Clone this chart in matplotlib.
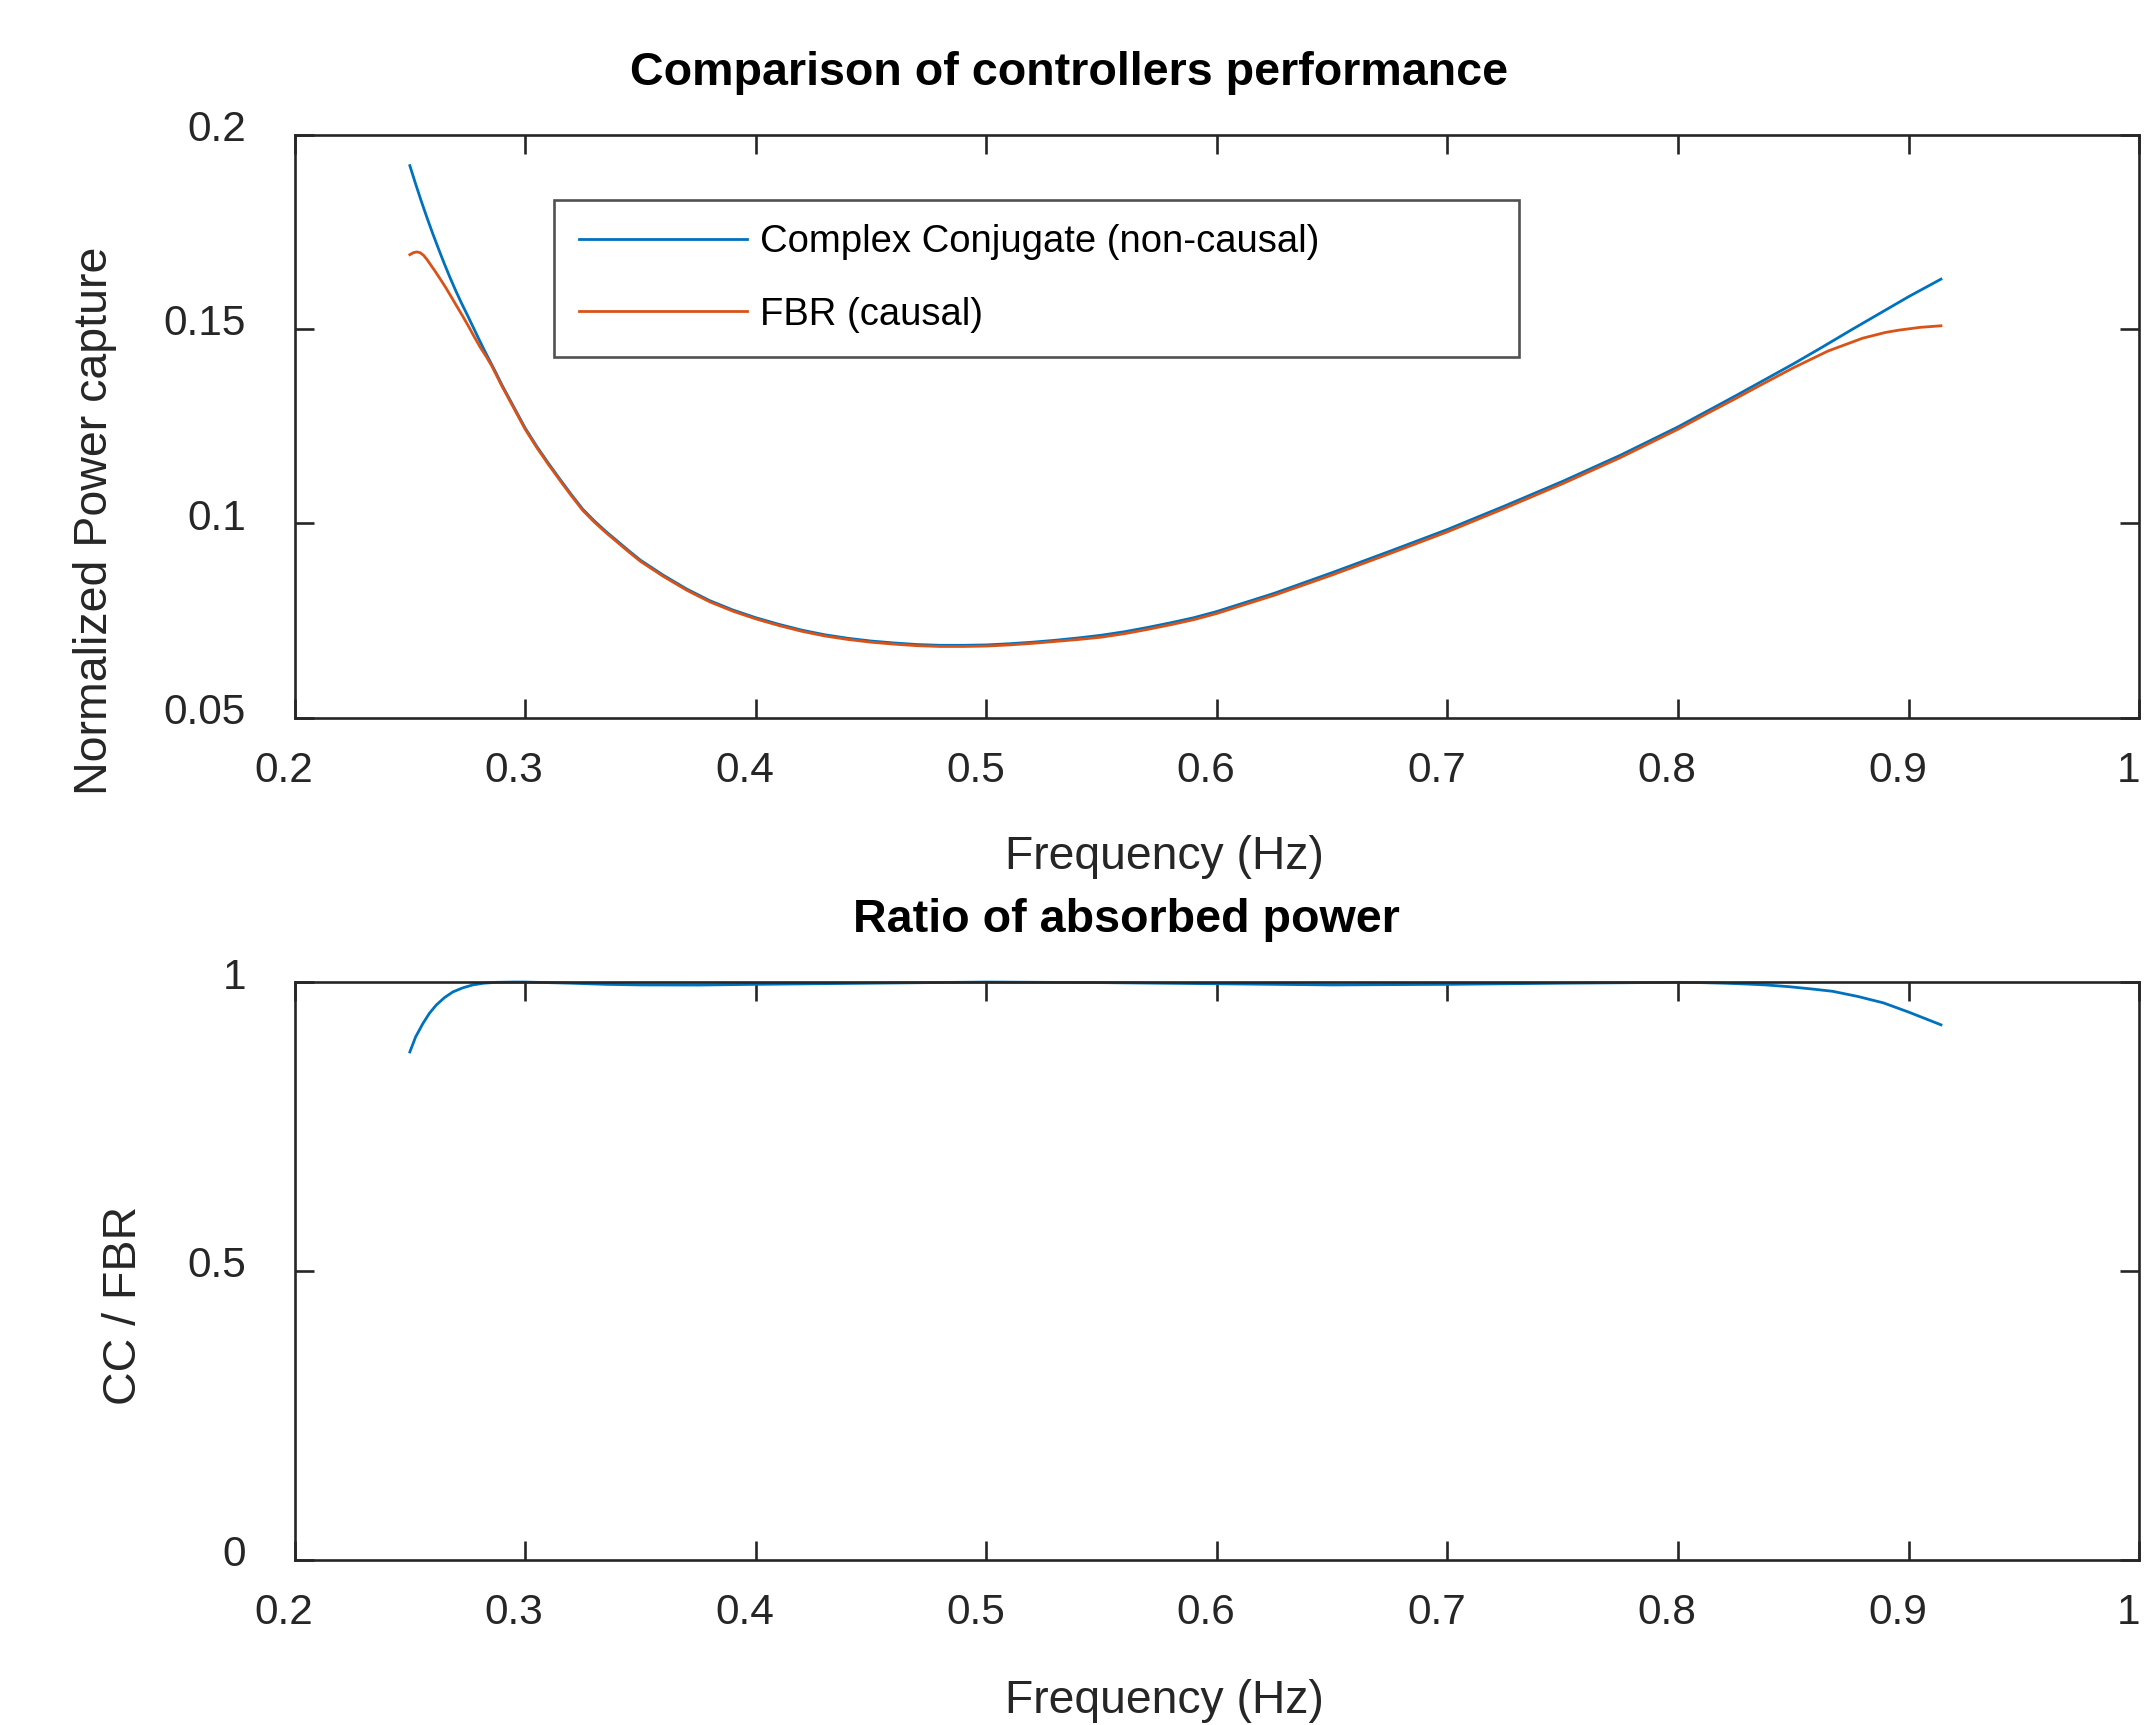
import matplotlib
matplotlib.use("Agg")
import matplotlib.pyplot as plt
import matplotlib.transforms as mtransforms

# ---- data ----
freq_cc = [0.2500, 0.2525, 0.2550, 0.2575, 0.2600, 0.2625, 0.2650, 0.2675, 0.2700, 0.2725,
           0.2750, 0.2775, 0.2800, 0.2825, 0.2850, 0.2875, 0.2900, 0.2950, 0.3000, 0.3050,
           0.3100, 0.3150, 0.3200, 0.3250, 0.3300, 0.3350, 0.3400, 0.3450, 0.3500, 0.3600,
           0.3700, 0.3800, 0.3900, 0.4000, 0.4100, 0.4200, 0.4300, 0.4400, 0.4500, 0.4600,
           0.4700, 0.4800, 0.4900, 0.5000, 0.5100, 0.5200, 0.5300, 0.5400, 0.5500, 0.5600,
           0.5700, 0.5800, 0.5900, 0.6000, 0.6250, 0.6500, 0.6750, 0.7000, 0.7250, 0.7500,
           0.7750, 0.8000, 0.8125, 0.8250, 0.8375, 0.8500, 0.8625, 0.8750, 0.8875, 0.9000,
           0.9140]
power_cc = [0.1920, 0.1873, 0.1828, 0.1785, 0.1744, 0.1705, 0.1667, 0.1631, 0.1597, 0.1565,
            0.1535, 0.1504, 0.1473, 0.1443, 0.1414, 0.1385, 0.1355, 0.1300, 0.1245, 0.1198,
            0.1155, 0.1114, 0.1074, 0.1036, 0.1006, 0.0979, 0.0954, 0.0929, 0.0905, 0.0866,
            0.0831, 0.0801, 0.0777, 0.0757, 0.0740, 0.0725, 0.0713, 0.0704, 0.0697, 0.0692,
            0.0688, 0.0686, 0.0686, 0.0687, 0.0690, 0.0694, 0.0699, 0.0705, 0.0712, 0.0721,
            0.0732, 0.0744, 0.0757, 0.0773, 0.0820, 0.0873, 0.0928, 0.0984, 0.1045, 0.1108,
            0.1175, 0.1248, 0.1288, 0.1328, 0.1369, 0.1410, 0.1453, 0.1497, 0.1540, 0.1583,
            0.1628]

freq_fbr = [0.2500, 0.2515, 0.2530, 0.2545, 0.2560, 0.2575, 0.2590, 0.2610, 0.2630, 0.2655,
            0.2680, 0.2705, 0.2730, 0.2755, 0.2780, 0.2805, 0.2830, 0.2855, 0.2900, 0.2950,
            0.3000, 0.3050, 0.3100, 0.3150, 0.3200, 0.3250, 0.3300, 0.3350, 0.3400, 0.3450,
            0.3500, 0.3600, 0.3700, 0.3800, 0.3900, 0.4000, 0.4100, 0.4200, 0.4300, 0.4400,
            0.4500, 0.4600, 0.4700, 0.4800, 0.4900, 0.5000, 0.5100, 0.5200, 0.5300, 0.5400,
            0.5500, 0.5600, 0.5700, 0.5800, 0.5900, 0.6000, 0.6250, 0.6500, 0.6750, 0.7000,
            0.7250, 0.7500, 0.7750, 0.8000, 0.8125, 0.8250, 0.8350, 0.8500, 0.8650, 0.8800,
            0.8900, 0.8960, 0.9050, 0.9140]
power_fbr = [0.1691, 0.1696, 0.1698, 0.1696, 0.1689, 0.1678, 0.1665, 0.1648, 0.1630, 0.1607,
             0.1582, 0.1557, 0.1532, 0.1506, 0.1479, 0.1453, 0.1430, 0.1405, 0.1352, 0.1297,
             0.1242, 0.1195, 0.1152, 0.1111, 0.1071, 0.1033, 0.1003, 0.0976, 0.0951, 0.0926,
             0.0902, 0.0863, 0.0828, 0.0798, 0.0774, 0.0754, 0.0737, 0.0722, 0.0710, 0.0701,
             0.0694, 0.0689, 0.0685, 0.0683, 0.0683, 0.0684, 0.0687, 0.0691, 0.0696, 0.0701,
             0.0707, 0.0716, 0.0727, 0.0739, 0.0752, 0.0768, 0.0815, 0.0867, 0.0922, 0.0978,
             0.1039, 0.1102, 0.1169, 0.1242, 0.1282, 0.1321, 0.1353, 0.1400, 0.1443, 0.1476,
             0.1491, 0.1497, 0.1504, 0.1508]

freq_ratio = [0.2500, 0.2525, 0.2557, 0.2585, 0.2614, 0.2650, 0.2687, 0.2730, 0.2773, 0.2820,
              0.2875, 0.2950, 0.3000, 0.3100, 0.3200, 0.3350, 0.3500, 0.3750, 0.4000, 0.4500,
              0.5000, 0.5500, 0.6000, 0.6500, 0.7000, 0.7500, 0.8000, 0.8100, 0.8200, 0.8300,
              0.8380, 0.8480, 0.8580, 0.8670, 0.8780, 0.8890, 0.9000, 0.9140]
ratio = [0.879, 0.905, 0.9285, 0.946, 0.960, 0.973, 0.983, 0.990, 0.995, 0.998,
         0.9995, 1.0, 1.0, 0.999, 0.998, 0.996, 0.995, 0.9948, 0.996, 0.998,
         1.0, 0.999, 0.997, 0.995, 0.996, 0.998, 0.9995, 0.999, 0.998, 0.9965,
         0.995, 0.992, 0.988, 0.984, 0.975, 0.964, 0.948, 0.926]

xticks = [0.2, 0.3, 0.4, 0.5, 0.6, 0.7, 0.8, 0.9, 1.0]
xticklabels = ["0.2", "0.3", "0.4", "0.5", "0.6", "0.7", "0.8", "0.9", "1"]
yticks_top = [0.05, 0.1, 0.15, 0.2]
yticks_bot = [0, 0.5, 1]

BLUE = "#0072BD"
ORANGE = "#D95319"
GREY = "#262626"

plt.rcParams['font.family'] = ['Liberation Sans', 'DejaVu Sans']

fig = plt.figure(figsize=(21.5, 17.25), dpi=100)
ax1 = fig.add_axes([0.137, 0.584, 0.858, 0.338])
ax2 = fig.add_axes([0.137, 0.0957, 0.858, 0.335])


def style(ax, yticks, ylabels):
    for s in ax.spines.values():
        s.set_color(GREY)
        s.set_linewidth(1.9)
    ax.set_xlim(0.2, 1.0)
    ax.set_xticks(xticks)
    ax.set_xticklabels(xticklabels)
    ax.set_yticks(yticks)
    ax.set_yticklabels(ylabels)
    ax.tick_params(direction='in', length=14, width=1.9, color=GREY,
                   labelcolor=GREY, labelsize=30.5, top=True, right=True)
    ax.tick_params(axis='x', pad=24)
    ax.tick_params(axis='y', pad=35)


ax1.plot(freq_cc, power_cc, color=BLUE, lw=2.0, label="Complex Conjugate (non-causal)")
ax1.plot(freq_fbr, power_fbr, color=ORANGE, lw=2.0, label="FBR (causal)")
ax1.set_ylim(0.05, 0.2)
style(ax1, yticks_top, ["0.05", "0.1", "0.15", "0.2"])

leg = ax1.legend(loc='upper left', bbox_to_anchor=(0.1405, 0.8885, 0.5233, 0.0),
                 mode='expand', fontsize=27.5, frameon=True, fancybox=False,
                 handlelength=4.4, handletextpad=0.35, labelspacing=0.95,
                 borderpad=0.65, borderaxespad=0.0)
leg.get_frame().set_edgecolor(GREY)
leg.get_frame().set_linewidth(1.9)

ax2.plot(freq_ratio, ratio, color=BLUE, lw=2.0, clip_on=False)
ax2.set_ylim(0, 1)
style(ax2, yticks_bot, ["0", "0.5", "1"])

# labels and titles (placed like the original)
for ax, ylab, ly, lx, xly in [(ax1, "Normalized Power capture", 0.338, -0.0962, -0.239),
                              (ax2, "CC / FBR", 0.441, -0.0805, -0.2435)]:
    ax.set_xlabel("Frequency (Hz)", fontsize=33.3, color=GREY, va='center')
    ax.xaxis.set_label_coords(0.4713, xly)
    ax.set_ylabel(ylab, fontsize=33.5, color=GREY)
    ax.yaxis.set_label_coords(lx, ly)

ax1.text(0.4197, 1.105, "Comparison of controllers performance", transform=ax1.transAxes,
         ha='center', va='center', fontsize=33.6, fontweight='bold', color='black')
ax2.text(0.4507, 1.107, "Ratio of absorbed power", transform=ax2.transAxes,
         ha='center', va='center', fontsize=33.6, fontweight='bold', color='black')

# MATLAB-style small shift of tick labels
dx = mtransforms.ScaledTranslation(-0.11, 0, fig.dpi_scale_trans)
dy = mtransforms.ScaledTranslation(0, 0.09, fig.dpi_scale_trans)
for ax in (ax1, ax2):
    for t in ax.xaxis.get_major_ticks():
        t.label1.set_transform(t.label1.get_transform() + dx)
    for t in ax.yaxis.get_major_ticks():
        t.label1.set_transform(t.label1.get_transform() + dy)

fig.savefig("out.png", dpi=100, facecolor='white')
